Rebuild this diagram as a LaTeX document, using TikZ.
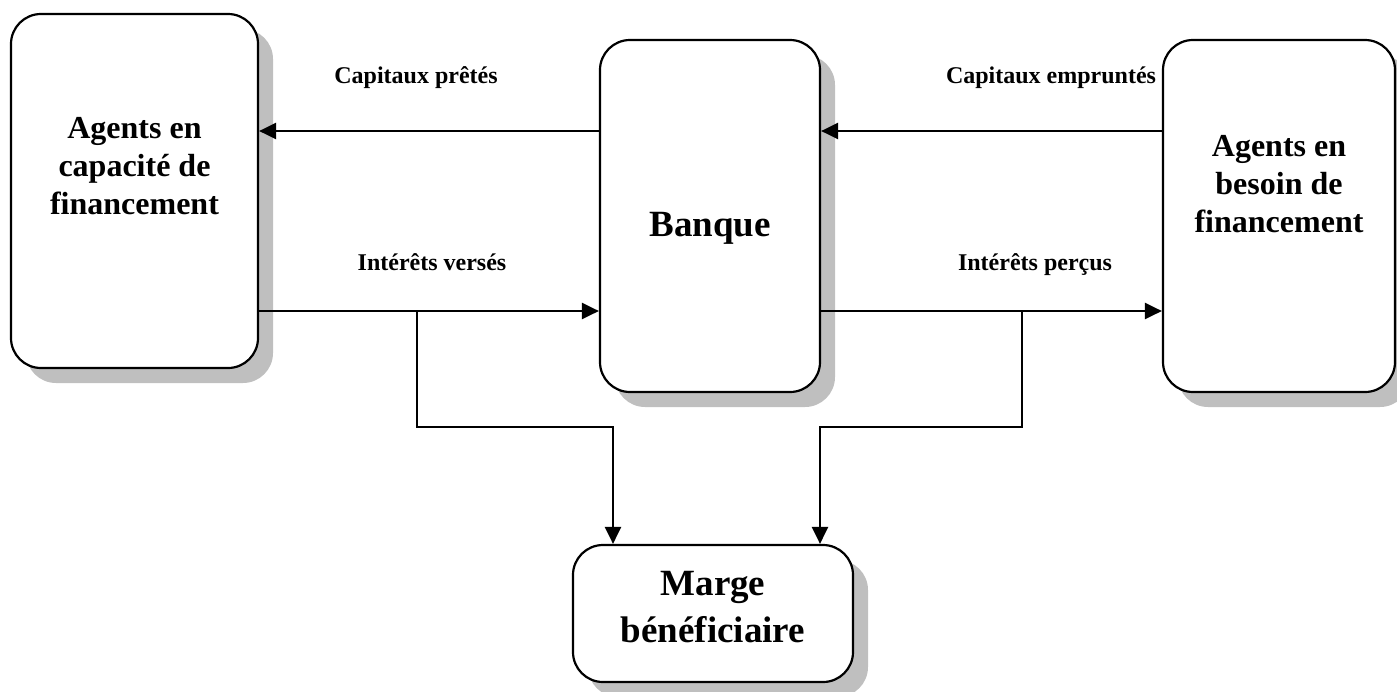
\documentclass[tikz,border=0pt]{standalone}
\usepackage{fontspec}
\setmainfont{Liberation Serif}
\usetikzlibrary{arrows.meta,shadows,positioning}

\begin{document}
\begin{tikzpicture}[x=0.5pt,y=-0.5pt,
    box/.style={draw,line width=1.1pt,rounded corners=15pt,fill=white,
        drop shadow={shadow xshift=7.5pt,shadow yshift=-7.5pt,fill=gray!50,opacity=1}},
    arr/.style={line width=1.2pt,-{Triangle[length=8.5pt,width=8pt]}},
    lbl/.style={font=\fontsize{12}{14}\selectfont\bfseries,anchor=base},
    agenttxt/.style={font=\fontsize{16}{19}\selectfont\bfseries,align=center},
    banktxt/.style={font=\fontsize{18.5}{23.5}\selectfont\bfseries,align=center}]
    \useasboundingbox (0,0) rectangle (1397,691);

    % Boxes
    \node[box,minimum width=123.5pt,minimum height=177pt] (cap) at (134.5,191) {};
    \node[box,minimum width=110pt,minimum height=176pt] (bank) at (710,216) {};
    \node[box,minimum width=116pt,minimum height=176pt] (need) at (1279,216) {};
    \node[box,minimum width=140pt,minimum height=68.5pt] (marge) at (713,613.5) {};

    \node[agenttxt] (captxt) at (134.5,166) {Agents en\\capacité de\\financement};
    \node[banktxt] (banktitle) at (710,228) {Banque};
    \node[agenttxt] (needtxt) at (1279,184) {Agents en\\besoin de\\financement};
    \node[banktxt] (margetxt) at (713,607) {Marge\\bénéficiaire};

    % Capital flows
    \draw[arr] (bank.west |- 0,131) -- (cap.east |- 0,131);
    \draw[arr] (need.west |- 0,131) -- (bank.east |- 0,131);
    \node[lbl] (lent) at (416,83) {Capitaux prêtés};
    \node[lbl] (borrowed) at (1051,83) {Capitaux empruntés};

    % Interest flows
    \draw[arr] (cap.east |- 0,311) -- (bank.west |- 0,311);
    \draw[arr] (bank.east |- 0,311) -- (need.west |- 0,311);
    \node[lbl] (paid) at (432,270) {Intérêts versés};
    \node[lbl] (received) at (1035,270) {Intérêts perçus};

    % Branches down to the margin
    \coordinate (sl) at (417,311);
    \coordinate (sr) at (1022,311);
    \coordinate (jl) at (613,427);
    \coordinate (jr) at (820,427);
    \draw[arr] (sl) |- (jl) -- (jl |- marge.north);
    \draw[arr] (sr) |- (jr) -- (jr |- marge.north);
\end{tikzpicture}
\end{document}
